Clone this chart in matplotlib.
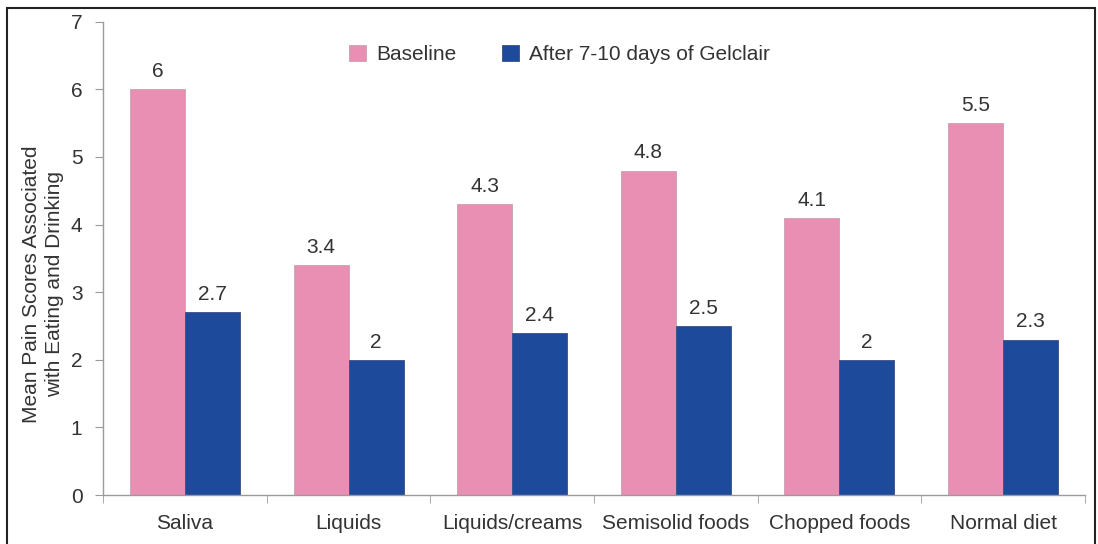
import numpy as np
import matplotlib.pyplot as plt
from matplotlib.patches import Rectangle

plt.rcParams['font.family'] = ['Liberation Sans', 'DejaVu Sans']

categories = ["Saliva", "Liquids", "Liquids/creams", "Semisolid foods", "Chopped foods", "Normal diet"]
baseline = [6, 3.4, 4.3, 4.8, 4.1, 5.5]
after = [2.7, 2, 2.4, 2.5, 2, 2.3]
baseline_labels = ["6", "3.4", "4.3", "4.8", "4.1", "5.5"]
after_labels = ["2.7", "2", "2.4", "2.5", "2", "2.3"]

pink = "#E98FB4"
blue = "#1E4A9C"
txt = "#333333"
axcol = "#9a9a9a"
fs = 15

fig = plt.figure(figsize=(10.98, 5.44), dpi=100)
ax = fig.add_axes([0.094, 0.09, 0.894, 0.87])

x = np.arange(len(categories))
w = 0.336
ax.bar(x - w / 2, baseline, w, color=pink, edgecolor="#c9a0b0", linewidth=0.6, label="Baseline")
ax.bar(x + w / 2, after, w, color=blue, edgecolor="#3a4f80", linewidth=0.6, label="After 7-10 days of Gelclair")

for xi, v, s in zip(x, baseline, baseline_labels):
    ax.text(xi - w / 2, v + 0.12, s, ha="center", va="bottom", fontsize=fs, color=txt)
for xi, v, s in zip(x, after, after_labels):
    ax.text(xi + w / 2, v + 0.12, s, ha="center", va="bottom", fontsize=fs, color=txt)

ax.set_xlim(-0.5, len(categories) - 0.5)
ax.set_ylim(0, 7)
ax.set_yticks(range(0, 8))
ax.set_xticks(x)
ax.set_xticklabels(categories, fontsize=fs, color=txt)
ax.set_xticks(np.arange(-0.5, len(categories), 1), minor=True)
ax.tick_params(axis="x", which="major", length=0, pad=14)
ax.tick_params(axis="x", which="minor", length=6, color=axcol, direction="out")
ax.tick_params(axis="y", labelsize=fs, labelcolor=txt, color=axcol, length=6, pad=9)

for sp in ["top", "right"]:
    ax.spines[sp].set_visible(False)
for sp in ["left", "bottom"]:
    ax.spines[sp].set_color(axcol)
    ax.spines[sp].set_linewidth(1.0)

ax.set_ylabel("Mean Pain Scores Associated\nwith Eating and Drinking", fontsize=fs, color=txt,
              linespacing=1.25)
ax.yaxis.set_label_coords(-0.04, 0.445)

ax.legend(loc="center", bbox_to_anchor=(0.465, 0.93), ncol=2, frameon=False,
          fontsize=fs, handlelength=0.8, handleheight=0.8, columnspacing=2.2, handletextpad=0.5,
          labelcolor=txt)

# outer frame around the figure
fig.patches.append(Rectangle((7 / 1098, -0.05), 1088 / 1098, 1 - 8 / 544 + 0.05,
                             transform=fig.transFigure, fill=False, edgecolor="#222222",
                             linewidth=1.5, zorder=10))

fig.savefig("out.png", dpi=100)
